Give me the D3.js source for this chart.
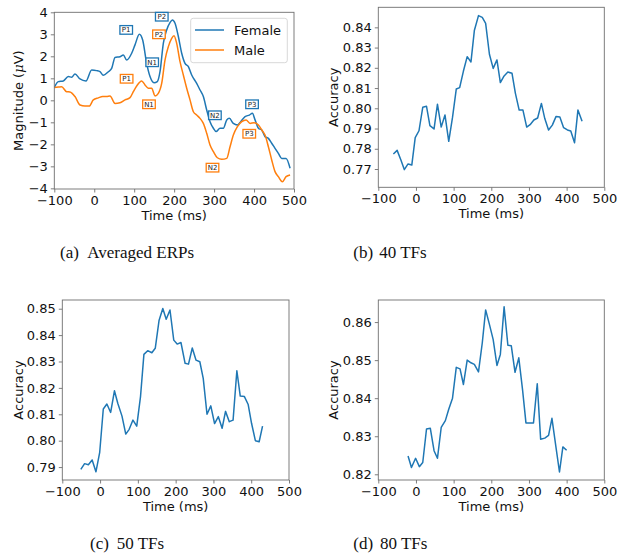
<!DOCTYPE html>
<html><head><meta charset="utf-8">
<script src="https://cdn.jsdelivr.net/npm/d3@7"></script>
<style>
body{margin:0;background:#fff}
svg{display:block}
text{font-family:"DejaVu Sans",sans-serif}
text.cap{font-family:"Liberation Serif","Times New Roman",serif}
</style>
</head><body>
<svg id="chart" width="626" height="556"></svg>
<script>
// ---------- data ----------
const xTicks = [-100, 0, 100, 200, 300, 400, 500];
const erpYTicks = [-4, -3, -2, -1, 0, 1, 2, 3, 4];

const femaleTime = [-100,-90,-77.5,-65,-56.6,-48.2,-35.7,-20.7,-6.5,6,14.4,22.7,35.2,43.6,52,64.4,72.8,81.1,93.7,102,112.9,121.2,131.2,139.6,149.6,157.9,164.6,173,181.3,189.6,195.5,202.2,210.5,218.9,227.2,235.6,243.9,256.4,264.8,273.1,281.5,289.8,298.2,304.8,314.9,323.2,331.6,338.2,348.2,358.3,366.6,377.5,388.3,395.8,402.5,410.9,419.2,427.5,435.9,444.2,452.5,460.9,469.3,480.1,490.2];
const femaleERP = [0.58,0.85,0.88,1.08,1.05,1.2,0.97,0.88,1.38,1.35,1.3,1.14,1.3,1.45,1.95,1.98,2.06,1.83,2.14,2.52,3.0,2.74,1.68,1.08,0.8,0.85,1.3,2.6,3.2,3.53,3.65,3.5,2.9,2.14,1.68,1.53,1.15,0.77,0.47,0.17,-0.44,-0.97,-1.27,-1.42,-1.27,-1.27,-0.89,-0.82,-1.05,-1.12,-0.97,-0.74,-0.67,-0.59,-0.89,-1.27,-1.35,-1.65,-1.73,-1.95,-2.18,-2.41,-2.64,-2.64,-3.09];

const maleTime = [-100,-90,-81.6,-69.1,-60.8,-48.2,-35.7,-23.2,-12.4,-2.3,10.2,21,31,39.4,52,64.4,77,89.5,97.8,106.2,118.7,127,135.4,143.7,152.1,160.4,168.8,177.1,185.5,193.8,199.7,206.3,214.7,223,231.4,239.7,248.1,256.4,264.8,273.1,281.5,289.8,298.2,308.2,319,331.6,339.9,348.2,358.3,369.1,380,390,400,410.9,419.2,427.5,435.9,444.2,452.5,460.9,470.9,480.1,490.2];
const maleERP = [0.58,0.6,0.62,0.39,0.38,0.17,-0.21,-0.26,-0.26,0.02,0.11,0.17,0.17,0.2,-0.14,-0.11,0.02,0.12,0.39,0.65,0.88,0.7,0.55,0.55,0.2,0.32,0.77,1.83,2.44,2.82,2.94,2.59,1.76,1.15,0.55,0.02,-0.52,-0.67,-0.82,-1.05,-1.5,-2.03,-2.33,-2.61,-2.68,-2.64,-2.11,-1.58,-1.2,-0.97,-0.89,-1.05,-1.02,-1.12,-1.35,-1.58,-2.11,-2.71,-3.24,-3.47,-3.7,-3.47,-3.39];

const peakLabels = ["P1", "P2", "N1", "N2", "P3"];
const femalePeakTime = [80, 169, 145, 302, 395];
const femalePeakVal  = [3.2, 3.8, 1.73, -0.68, -0.18];
const malePeakTime   = [81, 162, 137, 296, 388];
const malePeakVal    = [0.98, 3.0, -0.18, -3.06, -1.52];

const seriesNames = ["Female", "Male"];

const tf40Time = [-60,-50,-40,-31,-21,-11,-2,8,18,28,37,48,57,67,77,87,97,107,116,126,136,146,155,166,176,185,195,205,215,224,234,244,255,264,274,284,294,303,313,323,333,342,352,362,372,382,392,402,411,421,430,441];
const tf40Acc = [0.7774,0.7792,0.7744,0.7697,0.7725,0.7720,0.7855,0.7889,0.8005,0.8010,0.7914,0.7898,0.8020,0.7907,0.7967,0.7837,0.7955,0.8095,0.8102,0.8184,0.8255,0.8229,0.8384,0.8458,0.8449,0.8420,0.8267,0.8197,0.8239,0.8127,0.8160,0.8179,0.8173,0.8074,0.7991,0.7991,0.7907,0.7919,0.7942,0.7952,0.8024,0.7949,0.7893,0.7917,0.7960,0.7957,0.7904,0.7893,0.7888,0.7830,0.7991,0.7936];
const tf40YTicks = [0.77, 0.78, 0.79, 0.80, 0.81, 0.82, 0.83, 0.84];

const tf50Time = [-51,-41,-31,-21,-11,-1,8.5,18,28,38,47,58,68,77,87,97,107,116,126,137,146,156,166,175,185,195,204,214,225,234,244,254,264,273,283,293,303,313,323,332,342,352,362,371,382,392,401,411,421,430];
const tf50Acc = [0.7891,0.7913,0.7909,0.7927,0.7882,0.7956,0.8120,0.8139,0.8107,0.8189,0.8141,0.8093,0.8025,0.8043,0.8078,0.8055,0.8167,0.8327,0.8341,0.8333,0.8350,0.8455,0.8501,0.8460,0.8495,0.8381,0.8366,0.8372,0.8293,0.8290,0.8351,0.8305,0.8299,0.8236,0.8100,0.8132,0.8065,0.8091,0.8047,0.8111,0.8072,0.8078,0.8265,0.8169,0.8167,0.8137,0.8065,0.8000,0.7996,0.8055];
const tf50YTicks = [0.79, 0.80, 0.81, 0.82, 0.83, 0.84, 0.85];

const tf80Time = [-21,-12,-1,9,18,28,38,48,57,67,78,87,97,107,117,126,136,146,155,166,176,185,195,205,215,224,234,244,253,263,273,283,292,302,312,322,331,342,352,361,371,381,390,400];
const tf80Acc = [0.8248,0.8218,0.8242,0.8220,0.8231,0.8319,0.8321,0.8262,0.8242,0.8323,0.8341,0.8371,0.8400,0.8481,0.8477,0.8436,0.8500,0.8493,0.8489,0.8469,0.8545,0.8632,0.8594,0.8554,0.8486,0.8515,0.8640,0.8539,0.8538,0.8468,0.8506,0.8422,0.8335,0.8335,0.8335,0.8438,0.8292,0.8295,0.8302,0.8347,0.8276,0.8206,0.8272,0.8263];
const tf80YTicks = [0.82, 0.83, 0.84, 0.85, 0.86];

const captionLetters = ["(a)", "(b)", "(c)", "(d)"];
const captionTexts = ["Averaged ERPs", "40 TFs", "50 TFs", "80 TFs"];

// ---------- drawing ----------
const blue = "#1f77b4", orange = "#ff7f0e";
const frameColor = "#6f6f6f";
const svg = d3.select("#chart");

function panel(cfg) {
  const x = d3.scaleLinear().domain([-100, 500]).range([cfg.L, cfg.R]);
  const y = d3.scaleLinear().domain(cfg.yDomain).range([cfg.B, cfg.T]);
  const g = svg.append("g");

  const xa = g.append("g").attr("transform", `translate(0,${cfg.B})`)
    .call(d3.axisBottom(x).tickValues(xTicks).tickFormat(d3.format("d")).tickSize(3.5).tickPadding(3).tickSizeOuter(0));
  const ya = g.append("g").attr("transform", `translate(${cfg.L},0)`)
    .call(d3.axisLeft(y).tickValues(cfg.yTicks).tickFormat(d3.format(cfg.fmt)).tickSize(3.5).tickPadding(3).tickSizeOuter(0));
  [xa, ya].forEach(a => {
    a.select(".domain").remove();
    a.selectAll("line").attr("stroke", frameColor).attr("stroke-width", 0.9);
    a.selectAll("text").attr("font-size", 13).attr("fill", "#111")
      .attr("font-family", "DejaVu Sans");
  });

  const id = "clip" + cfg.id;
  svg.append("clipPath").attr("id", id).append("rect")
    .attr("x", cfg.L).attr("y", cfg.T).attr("width", cfg.R - cfg.L).attr("height", cfg.B - cfg.T);

  const line = d3.line().x(d => x(d[0])).y(d => y(d[1]));
  if (cfg.smooth) line.curve(d3.curveMonotoneX);
  cfg.series.forEach(s => {
    g.append("path").datum(d3.zip(s.t, s.v))
      .attr("clip-path", `url(#${id})`)
      .attr("fill", "none").attr("stroke", s.color).attr("stroke-width", 1.5)
      .attr("stroke-linejoin", "round").attr("d", line);
  });

  g.append("rect").attr("x", cfg.L).attr("y", cfg.T)
    .attr("width", cfg.R - cfg.L).attr("height", cfg.B - cfg.T)
    .attr("fill", "none").attr("stroke", frameColor).attr("stroke-width", 0.9);

  g.append("text").attr("x", (cfg.L + cfg.R) / 2).attr("y", cfg.B + 26)
    .attr("text-anchor", "middle").attr("dominant-baseline", "central")
    .attr("font-size", 13).attr("fill", "#111").text("Time (ms)");

  const yl = g.append("text")
    .attr("transform", `translate(${cfg.ylx},${(cfg.T + cfg.B) / 2}) rotate(-90)`)
    .attr("text-anchor", "middle").attr("dominant-baseline", "central")
    .attr("font-size", 13).attr("fill", "#111");
  if (cfg.ylabelMath) {
    yl.append("tspan").text("Magnitude (");
    yl.append("tspan").attr("font-style", "italic").style("font-family", "DejaVu Serif").text("μ");
    yl.append("tspan").text("V)");
  } else {
    yl.text(cfg.ylabel);
  }
  return {x, y, g};
}

// (a)
const pa = panel({id: "a", L: 54.3, R: 294, T: 12.3, B: 189, yDomain: [-4.03, 4.0], yTicks: erpYTicks, fmt: "d",
  ylx: 18, ylabelMath: true, smooth: true,
  series: [{t: femaleTime, v: femaleERP, color: blue}, {t: maleTime, v: maleERP, color: orange}]});

function peakBoxes(times, vals, color) {
  peakLabels.forEach((lab, i) => {
    const cx = pa.x(times[i]), cy = pa.y(vals[i]);
    pa.g.append("rect").attr("x", cx - 6.3).attr("y", cy - 4.3).attr("width", 12.6).attr("height", 8.6)
      .attr("fill", "#fff").attr("fill-opacity", 0.85).attr("stroke", color).attr("stroke-width", 1.3);
    pa.g.append("text").attr("x", cx).attr("y", cy + 0.3)
      .attr("text-anchor", "middle").attr("dominant-baseline", "central")
      .attr("font-size", 7).attr("fill", "#222").text(lab);
  });
}
peakBoxes(femalePeakTime, femalePeakVal, blue);
peakBoxes(malePeakTime, malePeakVal, orange);

// legend
const lg = pa.g.append("g");
lg.append("rect").attr("x", 190.7).attr("y", 18.3).attr("width", 96.6).attr("height", 44.4)
  .attr("rx", 2.5).attr("fill", "#fff").attr("fill-opacity", 0.85).attr("stroke", "#d4d4d4").attr("stroke-width", 0.9);
[blue, orange].forEach((c, i) => {
  const yy = 30 + i * 20;
  lg.append("line").attr("x1", 195).attr("x2", 224).attr("y1", yy).attr("y2", yy)
    .attr("stroke", c).attr("stroke-width", 1.5);
  lg.append("text").attr("x", 234).attr("y", yy).attr("dominant-baseline", "central")
    .attr("font-size", 13).attr("fill", "#111").text(seriesNames[i]);
});

// (b)
panel({id: "b", L: 378.3, R: 604.3, T: 7.3, B: 187.3, yDomain: [0.76096, 0.8499], yTicks: tf40YTicks, fmt: ".2f",
  ylx: 333.3, ylabel: "Accuracy", series: [{t: tf40Time, v: tf40Acc, color: blue}]});
// (c)
panel({id: "c", L: 62.3, R: 289, T: 300, B: 480, yDomain: [0.7851, 0.8533], yTicks: tf50YTicks, fmt: ".2f",
  ylx: 18.3, ylabel: "Accuracy", series: [{t: tf50Time, v: tf50Acc, color: blue}]});
// (d)
panel({id: "d", L: 378.3, R: 604.3, T: 300, B: 480, yDomain: [0.8185, 0.8658], yTicks: tf80YTicks, fmt: ".2f",
  ylx: 333.3, ylabel: "Accuracy", series: [{t: tf80Time, v: tf80Acc, color: blue}]});

// captions
const capPos = [[60, 87.3, 258], [353.3, 379.3, 258], [90, 116.7, 549], [353.3, 380, 549]];
captionLetters.forEach((l, i) => {
  const [x1, x2, yb] = capPos[i];
  svg.append("text").attr("class", "cap").attr("x", x1).attr("y", yb)
    .attr("font-size", 17).attr("fill", "#111").text(l);
  svg.append("text").attr("class", "cap").attr("x", x2).attr("y", yb)
    .attr("font-size", 17).attr("fill", "#111").text(captionTexts[i]);
});
</script>
</body></html>
